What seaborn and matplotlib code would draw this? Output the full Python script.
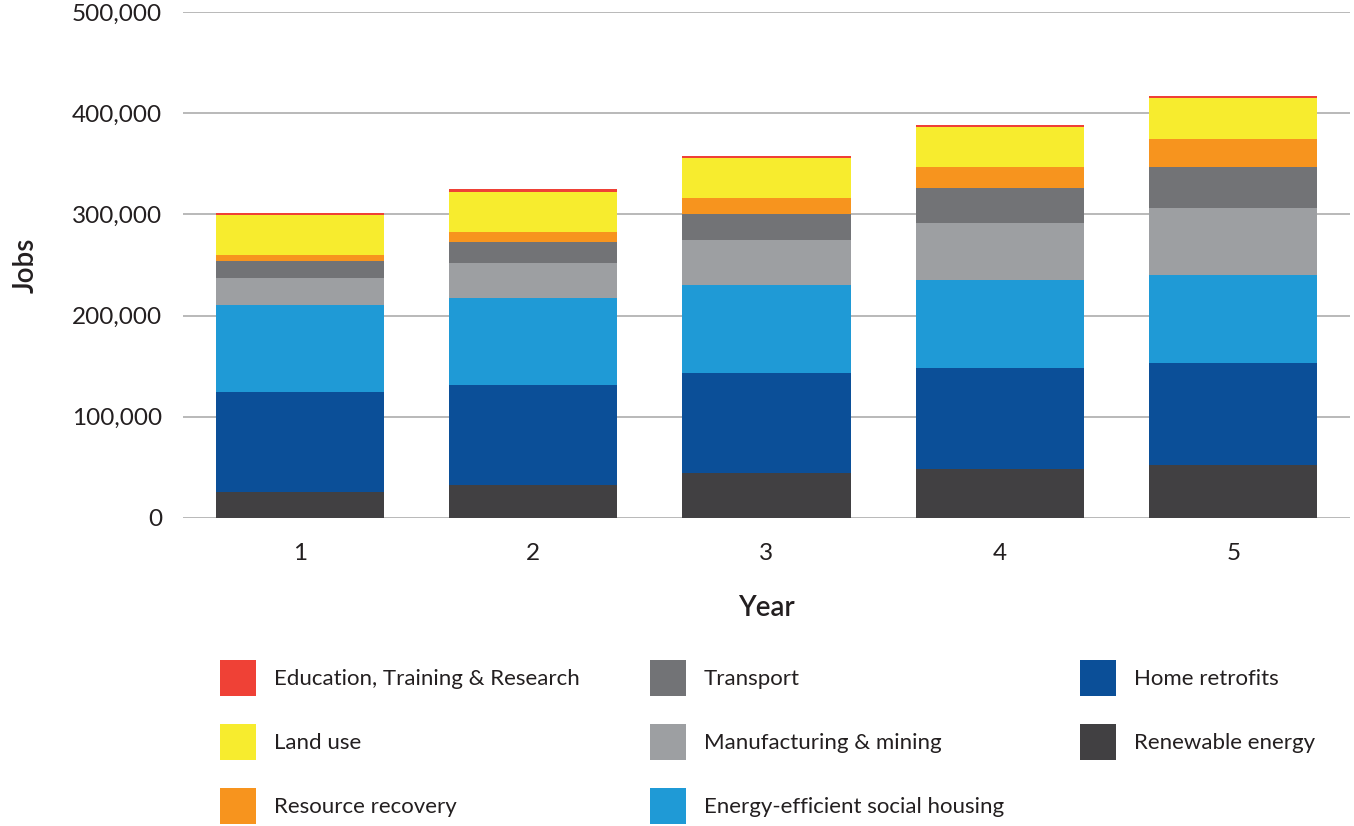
import numpy as np
import pandas as pd
import matplotlib
matplotlib.use('Agg')
import matplotlib.pyplot as plt
from matplotlib.patches import Patch
import seaborn as sns

# data (jobs per year, bottom segment first)
years = ["1", "2", "3", "4", "5"]
renewable_energy = [26000, 33000, 44000, 48000, 52000]
home_retrofits = [98600, 98600, 98900, 100200, 100900]
social_housing = [85400, 86100, 87300, 86700, 87100]
manufacturing_mining = [26700, 34600, 44300, 56400, 66200]
transport = [16800, 20800, 25700, 34600, 40600]
resource_recovery = [5900, 9900, 15800, 20800, 27700]
land_use = [39900, 39500, 39600, 39600, 40600]
education = [1700, 3000, 2400, 2000, 2000]

series_names = [
    "Renewable energy",
    "Home retrofits",
    "Energy-efficient social housing",
    "Manufacturing & mining",
    "Transport",
    "Resource recovery",
    "Land use",
    "Education, Training & Research",
]
series_values = [
    renewable_energy, home_retrofits, social_housing, manufacturing_mining,
    transport, resource_recovery, land_use, education,
]
colors = {
    "Renewable energy": "#414042",
    "Home retrofits": "#0B4F98",
    "Energy-efficient social housing": "#1F9AD6",
    "Manufacturing & mining": "#9D9FA2",
    "Transport": "#727376",
    "Resource recovery": "#F7941E",
    "Land use": "#F7EC2E",
    "Education, Training & Research": "#EF4136",
}

text_color = "#231F20"
sns.set_theme(style="white")
plt.rcParams["font.family"] = ["Lato", "DejaVu Sans"]
plt.rcParams["text.color"] = text_color

df = pd.DataFrame(dict(zip(series_names, series_values)), index=years)
cum = df.cumsum(axis=1)

fig = plt.figure(figsize=(13.54, 8.26), dpi=100)
ax = fig.add_axes([183 / 1354, 1 - 518 / 826, (1350 - 183) / 1354, (518 - 12) / 826])

# stacked look: draw cumulative totals from the top series down
for name in reversed(series_names):
    sns.barplot(x=cum.index, y=cum[name].values, color=colors[name],
                saturation=1, width=0.72, order=years, ax=ax, zorder=3,
                edgecolor="none", linewidth=0)

ax.set_xlim(-0.5, 4.5)
ax.set_ylim(0, 500000)
ax.set_yticks(np.arange(0, 500001, 100000))
ax.set_yticklabels([f"{v:,}" for v in range(0, 500001, 100000)])
ax.yaxis.grid(True, color="#b3b3b3", linewidth=1.3, zorder=0)
ax.set_axisbelow(True)
for s in ax.spines.values():
    s.set_visible(False)
ax.tick_params(axis="y", length=0, pad=15, labelsize=17.5, labelcolor=text_color)
ax.tick_params(axis="x", length=0, pad=18, labelsize=17.5, labelcolor=text_color)
ax.set_xlabel("Year", fontsize=20, fontweight="semibold", labelpad=22, color=text_color)
ax.set_ylabel("Jobs", fontsize=20, fontweight="semibold", labelpad=24, color=text_color)

# legend, three columns placed like the original
legend_cols = [
    ["Education, Training & Research", "Land use", "Resource recovery"],
    ["Transport", "Manufacturing & mining", "Energy-efficient social housing"],
    ["Home retrofits", "Renewable energy"],
]
col_x = [220, 650, 1080]
for xpos, names in zip(col_x, legend_cols):
    handles = [Patch(facecolor=colors[n], edgecolor="none", label=n) for n in names]
    leg = fig.legend(handles=handles, loc="upper left",
                     bbox_to_anchor=(xpos / 1354, 1 - 660 / 826),
                     frameon=False, fontsize=16, handlelength=1.62, handleheight=2.12,
                     handletextpad=0.8, labelspacing=1.26, borderpad=0, borderaxespad=0)
    for t in leg.get_texts():
        t.set_color(text_color)

fig.savefig("out.png", dpi=100)
